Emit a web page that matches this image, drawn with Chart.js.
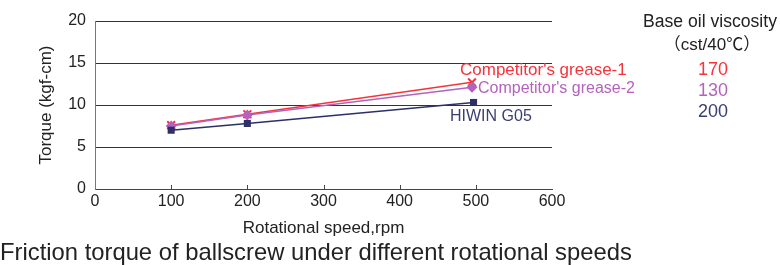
<!DOCTYPE html>
<html>
<head>
<meta charset="utf-8">
<script src="https://cdn.jsdelivr.net/npm/chart.js@4"></script>
<style>
  html, body { margin: 0; padding: 0; background: #fff; }
  #wrap { position: relative; width: 780px; height: 265px; overflow: hidden; }
</style>
</head>
<body>
<div id="wrap"><canvas id="chart" width="780" height="265"></canvas></div>
<script>
// data
const speeds = [100, 200, 495];
const hiwinSpeeds = [100, 200, 497];
const grease1 = [7.6, 8.9, 12.7];
const grease2 = [7.5, 8.8, 12.1];
const hiwin = [7.0, 7.8, 10.3];
const seriesNames = ["Competitor's grease-1", "Competitor's grease-2", 'HIWIN G05'];
const viscosity = ['170', '130', '200'];
const xTicks = [0, 100, 200, 300, 400, 500, 600];
const yTicks = [0, 5, 10, 15, 20];

const RED = '#f5333b';
const PURPLE = '#b462be';
const NAVY = '#2c2f68';
const FONT = '"Liberation Sans", Arial, sans-serif';

function pts(xs, ys) {
    return xs.map((x, i) => ({ x: x, y: ys[i] }));
}

// extra text + inner tick marks
const extras = {
    id: 'extras',
    afterDraw(chart) {
        const c = chart.ctx;
        const xs = chart.scales.x;
        const ys = chart.scales.y;
        c.save();

        // small tick marks pointing into the plot
        c.strokeStyle = '#444';
        c.lineWidth = 1;
        xTicks.slice(1, -1).forEach(v => {
            const px = Math.round(xs.getPixelForValue(v)) + 0.5;
            c.beginPath();
            c.moveTo(px, ys.bottom);
            c.lineTo(px, ys.bottom - 4);
            c.stroke();
        });

        // line labels
        c.textBaseline = 'middle';
        c.textAlign = 'left';
        c.font = '17px ' + FONT;
        c.fillStyle = RED;
        c.fillText(seriesNames[0], 460, 70);
        c.font = '16px ' + FONT;
        c.fillStyle = PURPLE;
        c.fillText(seriesNames[1], 478, 89);
        c.font = '16px ' + FONT;
        c.fillStyle = '#3a3e72';
        c.fillText(seriesNames[2], 450, 117);

        // viscosity table
        c.fillStyle = '#222';
        c.font = '17.6px ' + FONT;
        c.fillText('Base oil viscosity', 643, 22);
        c.textAlign = 'center';
        c.font = '17px ' + FONT + ', "Noto Sans CJK JP"';
        c.fillText('\uff08cst/40\u2103\uff09', 712, 45);
        c.font = '18px ' + FONT;
        const cols = [RED, PURPLE, '#3a3e72'];
        viscosity.forEach((v, i) => {
            c.fillStyle = cols[i];
            c.fillText(v, 713, 70 + i * 21);
        });

        // caption
        c.textAlign = 'left';
        c.fillStyle = '#222';
        c.font = '23.8px ' + FONT;
        c.fillText('Friction torque of ballscrew under different rotational speeds', 0, 253);
        c.restore();
    }
};

const ctx = document.getElementById('chart');

let torqueChart = new Chart(ctx, {
    type: 'line',
    data: {
        datasets: [
            {
                label: seriesNames[2],
                data: pts(hiwinSpeeds, hiwin),
                borderColor: NAVY,
                backgroundColor: NAVY,
                borderWidth: 1.5,
                pointStyle: 'rect',
                pointRadius: 5,
                pointBorderWidth: 0
            },
            {
                label: seriesNames[1],
                data: pts(speeds, grease2),
                borderColor: PURPLE,
                backgroundColor: PURPLE,
                borderWidth: 1.5,
                pointStyle: 'rectRot',
                pointRadius: 5.5,
                pointBorderWidth: 0
            },
            {
                label: seriesNames[0],
                data: pts(speeds, grease1),
                borderColor: RED,
                backgroundColor: RED,
                borderWidth: 1.5,
                pointStyle: 'crossRot',
                pointRadius: 5.5,
                pointBorderWidth: 2
            }
        ]
    },
    options: {
        responsive: false,
        animation: false,
        layout: {
            padding: { left: 0, right: 228, top: 21, bottom: 0 }
        },
        plugins: {
            legend: { display: false },
            tooltip: { enabled: false }
        },
        scales: {
            x: {
                type: 'linear',
                min: 0,
                max: 600,
                afterBuildTicks: s => { s.ticks = xTicks.map(v => ({ value: v })); },
                afterFit: s => { s.height = 76; },
                ticks: {
                    color: '#222',
                    font: { family: FONT, size: 16 },
                    padding: 3
                },
                grid: { display: false, drawTicks: false },
                border: { color: '#444', width: 1 },
                title: {
                    display: true,
                    text: 'Rotational speed,rpm',
                    color: '#222',
                    font: { family: FONT, size: 17 },
                    padding: { top: 0, bottom: 26 }
                }
            },
            y: {
                min: 0,
                max: 20,
                afterBuildTicks: s => { s.ticks = yTicks.map(v => ({ value: v })); },
                afterFit: s => { s.width = 95; },
                ticks: {
                    color: '#222',
                    font: { family: FONT, size: 16 },
                    padding: 9
                },
                grid: {
                    color: '#333',
                    lineWidth: 1,
                    drawTicks: false
                },
                border: { color: '#777', width: 1 },
                title: {
                    display: true,
                    text: 'Torque (kgf-cm)',
                    color: '#222',
                    font: { family: FONT, size: 17 },
                    padding: { top: 36, bottom: 0 }
                }
            }
        }
    },
    plugins: [extras]
});
</script>
</body>
</html>
